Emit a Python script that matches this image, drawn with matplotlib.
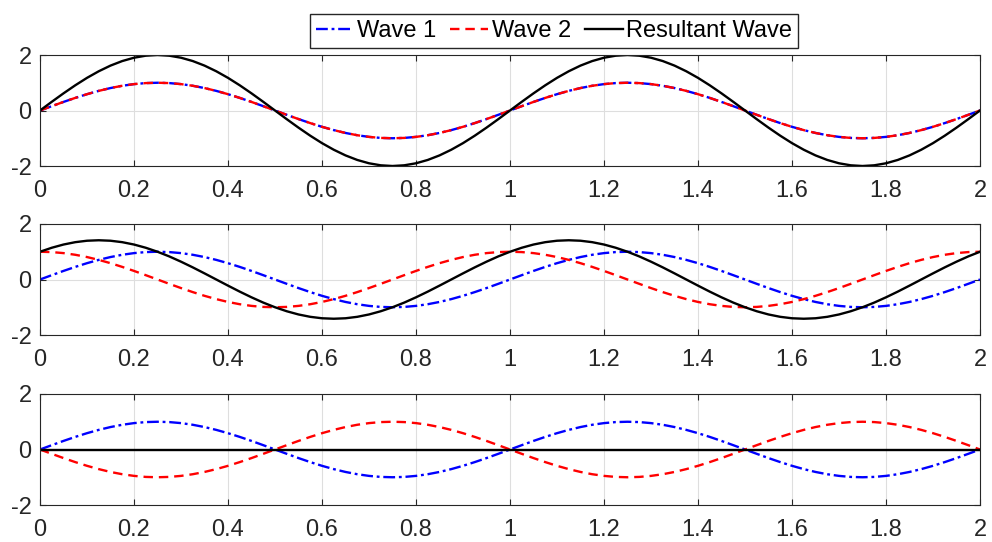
import matplotlib.pyplot as plt
import numpy as np

plt.rcParams['font.family'] = ['Liberation Sans', 'DejaVu Sans']
plt.rcParams['axes.unicode_minus'] = False

# sample grid, 0..2 step 0.025 (two periods)
t = np.linspace(0, 2, 81)

# one period of each wave (41 samples, last = first of next period)
sin_period = [0, 0.156, 0.309, 0.454, 0.588, 0.707, 0.809, 0.891, 0.951, 0.988, 1,
              0.988, 0.951, 0.891, 0.809, 0.707, 0.588, 0.454, 0.309, 0.156, 0,
              -0.156, -0.309, -0.454, -0.588, -0.707, -0.809, -0.891, -0.951, -0.988, -1,
              -0.988, -0.951, -0.891, -0.809, -0.707, -0.588, -0.454, -0.309, -0.156, 0]
neg_sin_period = [0, -0.156, -0.309, -0.454, -0.588, -0.707, -0.809, -0.891, -0.951, -0.988, -1,
                  -0.988, -0.951, -0.891, -0.809, -0.707, -0.588, -0.454, -0.309, -0.156, 0,
                  0.156, 0.309, 0.454, 0.588, 0.707, 0.809, 0.891, 0.951, 0.988, 1,
                  0.988, 0.951, 0.891, 0.809, 0.707, 0.588, 0.454, 0.309, 0.156, 0]
cos_period = [1, 0.988, 0.951, 0.891, 0.809, 0.707, 0.588, 0.454, 0.309, 0.156, 0,
              -0.156, -0.309, -0.454, -0.588, -0.707, -0.809, -0.891, -0.951, -0.988, -1,
              -0.988, -0.951, -0.891, -0.809, -0.707, -0.588, -0.454, -0.309, -0.156, 0,
              0.156, 0.309, 0.454, 0.588, 0.707, 0.809, 0.891, 0.951, 0.988, 1]
double_sin_period = [0, 0.313, 0.618, 0.908, 1.176, 1.414, 1.618, 1.782, 1.902, 1.975, 2,
                     1.975, 1.902, 1.782, 1.618, 1.414, 1.176, 0.908, 0.618, 0.313, 0,
                     -0.313, -0.618, -0.908, -1.176, -1.414, -1.618, -1.782, -1.902, -1.975, -2,
                     -1.975, -1.902, -1.782, -1.618, -1.414, -1.176, -0.908, -0.618, -0.313, 0]
sum_sin_cos_period = [1, 1.144, 1.260, 1.345, 1.397, 1.414, 1.397, 1.345, 1.260, 1.144, 1,
                      0.832, 0.642, 0.437, 0.221, 0, -0.221, -0.437, -0.642, -0.832, -1,
                      -1.144, -1.260, -1.345, -1.397, -1.414, -1.397, -1.345, -1.260, -1.144, -1,
                      -0.832, -0.642, -0.437, -0.221, 0, 0.221, 0.437, 0.642, 0.832, 1]
zero_period = [0] * 41


def two_periods(p):
    return p + p[1:]


panels = [
    (two_periods(sin_period), two_periods(sin_period), two_periods(double_sin_period)),
    (two_periods(sin_period), two_periods(cos_period), two_periods(sum_sin_cos_period)),
    (two_periods(sin_period), two_periods(neg_sin_period), two_periods(zero_period)),
]
labels = ['Wave 1', 'Wave 2', 'Resultant Wave']
xticks = [0, 0.2, 0.4, 0.6, 0.8, 1, 1.2, 1.4, 1.6, 1.8, 2]
xticklabels = ['0', '0.2', '0.4', '0.6', '0.8', '1', '1.2', '1.4', '1.6', '1.8', '2']
yticks = [-2, 0, 2]

fig = plt.figure(figsize=(9.92, 5.42), dpi=100)
W, H = 992, 542
ax_tops = [55, 224, 394]
ax_h = 111
dark = (0.15, 0.15, 0.15)
fs = 17

handles = None
for i, (w1, w2, res) in enumerate(panels):
    ax = fig.add_axes([40 / W, 1 - (ax_tops[i] + ax_h) / H, 940 / W, ax_h / H])
    h1, = ax.plot(t, w1, color='blue', ls='-.', lw=1.7, dashes=(5, 1.6, 1.2, 1.6))
    h2, = ax.plot(t, w2, color='red', ls='--', lw=1.7, dashes=(4, 2.5))
    h3, = ax.plot(t, res, color='black', ls='-', lw=1.7)
    handles = [h1, h2, h3]
    ax.set_xlim(0, 2)
    ax.set_ylim(-2, 2)
    ax.set_xticks(xticks)
    ax.set_xticklabels(xticklabels)
    ax.set_yticks(yticks)
    ax.grid(True, color=(0.87, 0.87, 0.87), lw=0.8)
    ax.set_axisbelow(True)
    ax.tick_params(direction='in', length=4, width=0.8, top=True, right=True,
                   labelsize=fs, colors=dark, labelcolor=dark)
    ax.tick_params(axis='x', pad=10)
    ax.tick_params(axis='y', pad=6)
    for s in ax.spines.values():
        s.set_color(dark)
        s.set_linewidth(0.8)

fig.legend(handles, labels, ncol=3, loc='center',
           bbox_to_anchor=(554 / W, 1 - 31 / H), fontsize=fs, frameon=True,
           fancybox=False, edgecolor=dark, framealpha=1, handlelength=1.6,
           handletextpad=0.15, columnspacing=0.6, borderpad=0.25, borderaxespad=0)

fig.savefig('out.png', dpi=100)
